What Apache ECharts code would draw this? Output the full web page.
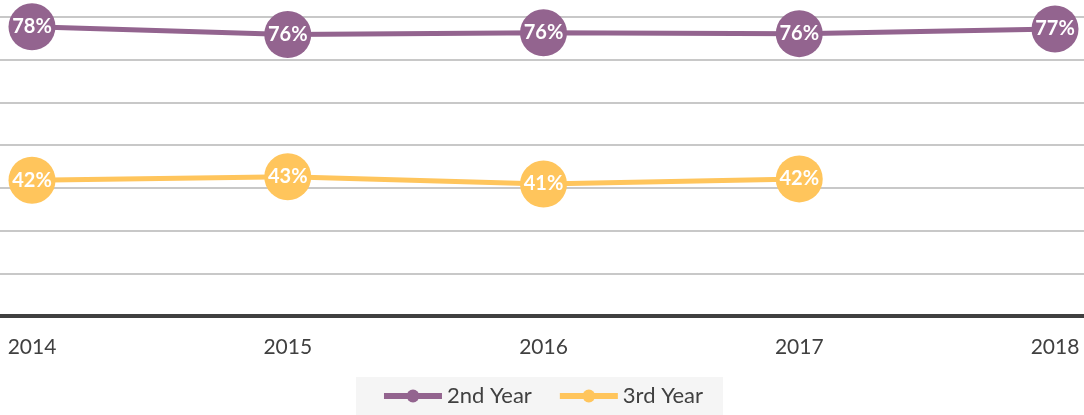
<!doctype html>
<html>
<head>
<meta charset="utf-8">
<title>Retention</title>
<style>
html, body { margin: 0; padding: 0; background: #fff; }
#container { width: 1084px; height: 415px; }
</style>
</head>
<body>
<div id="container"></div>
<script src="https://cdn.jsdelivr.net/npm/echarts@6/dist/echarts.min.js"></script>
<script>
var years = ['2014', '2015', '2016', '2017', '2018'];
var secondYear = [77.7, 75.9, 76.3, 76.1, 77.2];
var thirdYear = [41.8, 42.6, 40.9, 42.1];

var purple = '#93648F';
var yellow = '#FFC55C';
var font = 'Lato, "Open Sans", sans-serif';

function lineSeries(name, data, color) {
	return {
		name: name,
		type: 'line',
		xAxisIndex: 1,
		yAxisIndex: 1,
		data: data,
		clip: false,
		symbol: 'circle',
		symbolSize: 47,
		itemStyle: { color: color },
		lineStyle: { color: color, width: 5 },
		label: {
			show: true,
			position: 'inside',
			color: '#fff',
			fontFamily: font,
			fontWeight: 'bold',
			fontSize: 20,
			formatter: function (p) { return Math.round(p.value) + '%'; }
		},
		emphasis: { disabled: true },
		animation: false
	};
}

var chart = echarts.init(document.getElementById('container'));
chart.setOption({
	textStyle: { fontFamily: font },
	grid: [
		{ left: 0, right: 0, top: 17, bottom: 99 },
		{ left: 32, right: 29, top: 17, bottom: 99 }
	],
	xAxis: [
		{
			gridIndex: 0, type: 'value', min: 0, max: 1,
			axisLine: { show: true, lineStyle: { color: '#404040', width: 4 } },
			axisTick: { show: false }, axisLabel: { show: false }, splitLine: { show: false }
		},
		{
			gridIndex: 1, type: 'category', data: years, boundaryGap: false,
			axisLine: { show: false }, axisTick: { show: false }, splitLine: { show: false },
			axisLabel: { color: '#404040', fontSize: 21, fontFamily: font, margin: 21 }
		}
	],
	yAxis: [
		{
			gridIndex: 0, type: 'value', min: 10, max: 80, interval: 10,
			axisLine: { show: false }, axisTick: { show: false }, axisLabel: { show: false },
			splitLine: { lineStyle: { color: '#C8C8C8', width: 2 } }
		},
		{
			gridIndex: 1, type: 'value', min: 10, max: 80, interval: 10, show: false,
			splitLine: { show: false }
		}
	],
	legend: {
		bottom: 0,
		left: 'center',
		backgroundColor: '#F5F5F5',
		padding: [8, 20, 8, 25],
		itemWidth: 58,
		itemHeight: 16,
		itemGap: 25,
		lineStyle: { width: 6 },
		textStyle: { color: '#404040', fontSize: 22, fontFamily: font },
		data: ['2nd Year', '3rd Year']
	},
	series: [
		lineSeries('2nd Year', secondYear, purple),
		lineSeries('3rd Year', thirdYear, yellow)
	]
});
</script>
</body>
</html>
